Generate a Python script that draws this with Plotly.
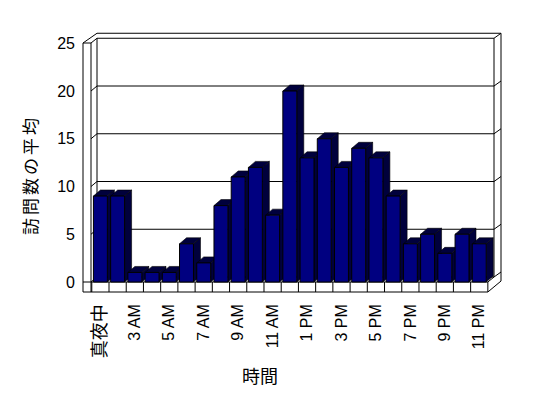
import plotly.graph_objects as go

# ---- data ----
hours = ["真夜中", "1 AM", "3 AM", "4 AM", "5 AM", "6 AM", "7 AM", "8 AM", "9 AM",
         "10 AM", "11 AM", "正午", "1 PM", "2 PM", "3 PM", "4 PM", "5 PM", "6 PM",
         "7 PM", "8 PM", "9 PM", "10 PM", "11 PM"]
visits = [9, 9, 1, 1, 1, 4, 2, 8, 11, 12, 7, 20, 13, 15, 12, 14, 13, 9, 4, 5, 3, 5, 4]
y_ticks = [0, 5, 10, 15, 20, 25]
x_title = "時間"
y_title = "訪問数の平均"

# ---- geometry (pixel calibration of the canvas) ----
W, H = 548, 398
L, R, T, B = 76, 36, 25, 102
X0, SX = 100.4, 17.22   # px of first category centre, px per category
Y0, SY = 282.0, 9.55    # px of value 0, px per unit


def dx(px):
    return (px - X0) / SX


def dy(py):
    return (Y0 - py) / SY


def paper_x(px):
    return (px - L) / (W - L - R)


def paper_y(py):
    return (H - B - py) / (H - T - B)


xr = [dx(L), dx(W - R)]
yr = [dy(H - B), dy(T)]

NAVY = "#000080"
DARK = "#00003c"
BW = 0.81
DXB, DYB = 7 / SX, 6 / SY
DYW = 5 / SY           # depth offset of back wall

idx = list(range(len(hours)))

shapes = []


def line(x0, y0, x1, y1, w=1):
    shapes.append(dict(type="line", xref="x", yref="y", x0=x0, y0=y0, x1=x1, y1=y1,
                       line=dict(color="black", width=w), layer="between"))


# frame (pixel-defined)
bx0, bx1 = dx(97), dx(494)
ox1 = dx(501)
fl, fi = dx(83), dx(91)
top_front = dy(43)
floor_top, floor_bot = dy(282), dy(292)
fr = len(hours) - 0.5

# gridlines on back wall + connectors
for v in y_ticks:
    gy = v + DYW
    if v < 25:
        line(bx0, gy, bx1, gy)
        line(fi, v, bx0, gy)
        line(bx1, gy, ox1, gy + DYW)
line(bx0, 25 + DYW, bx1, 25 + DYW)
line(fi, top_front, bx0, 25 + DYW)
line(fl, top_front, bx0, 25 + 2 * DYW)
line(bx0, 25 + 2 * DYW, ox1, 25 + 2 * DYW)
line(fl, top_front, fi, top_front)
line(bx1, 25 + DYW, ox1, 25 + 2 * DYW)
# verticals
line(fl, top_front, fl, floor_bot)
line(fi, top_front, fi, floor_bot)
line(bx0, 25 + DYW, bx0, DYW)
line(bx1, 25 + DYW, bx1, DYW)
line(ox1, 25 + 2 * DYW, ox1, floor_top + 0.1)
# floor front strip
line(fl, floor_top, fr, floor_top)
line(fl, floor_bot, fr, floor_bot)
for k in range(len(hours) + 1):
    line(k - 0.5, floor_top, k - 0.5, floor_bot)
line(fr, floor_top, bx1, DYW)
line(fr, floor_bot, ox1, floor_top + 0.1)

# 3D faces of bars
for i, v in zip(idx, visits):
    xr_ = i + BW / 2
    xl_ = i - BW / 2
    side = (f"M {xr_},0 L {xr_ + DXB},{DYB} L {xr_ + DXB},{v + DYB} "
            f"L {xr_},{v} Z")
    top = (f"M {xl_},{v} L {xr_},{v} L {xr_ + DXB},{v + DYB} "
           f"L {xl_ + DXB},{v + DYB} Z")
    for p in (side, top):
        shapes.append(dict(type="path", xref="x", yref="y", path=p,
                           fillcolor=DARK, line=dict(color="black", width=0.6),
                           layer="between"))

fig = go.Figure()
fig.add_trace(go.Bar(x=idx, y=visits, width=BW,
                     marker=dict(color=NAVY, line=dict(color="black", width=1)),
                     hoverinfo="skip"))

tickvals = idx[::2]
ticktext = [('<span style="font-size:18px">' + h + '</span>')
            if not h[0].isdigit() else h for h in hours[::2]]

FONT = "Liberation Sans, Noto Sans CJK JP, sans-serif"
JFONT = "Noto Sans CJK JP, sans-serif"

fig.update_layout(
    width=W, height=H, autosize=False,
    margin=dict(l=L, r=R, t=T, b=B, pad=0),
    paper_bgcolor="white", plot_bgcolor="white",
    showlegend=False,
    font=dict(family=FONT, size=16, color="black"),
    shapes=shapes,
    xaxis=dict(range=xr, showgrid=False, zeroline=False, showline=False,
               ticks="", tickvals=tickvals, ticktext=ticktext, tickangle=-90,
               ticklabelstandoff=4, fixedrange=True),
    yaxis=dict(range=yr, showgrid=False, zeroline=False, showline=False,
               ticks="", tickvals=y_ticks, fixedrange=True),
    annotations=[
        dict(text=x_title, xref="paper", yref="paper", x=paper_x(259.5),
             y=paper_y(375), xanchor="center", yanchor="middle",
             showarrow=False, font=dict(family=JFONT, size=18, color="black")),
        dict(text='<span style="letter-spacing:3px">' + y_title + '</span>',
             xref="paper", yref="paper", x=paper_x(29), y=paper_y(175),
             xanchor="center", yanchor="middle", textangle=-90,
             showarrow=False, font=dict(family=JFONT, size=17, color="black")),
    ],
)

fig.write_html("out.html")
